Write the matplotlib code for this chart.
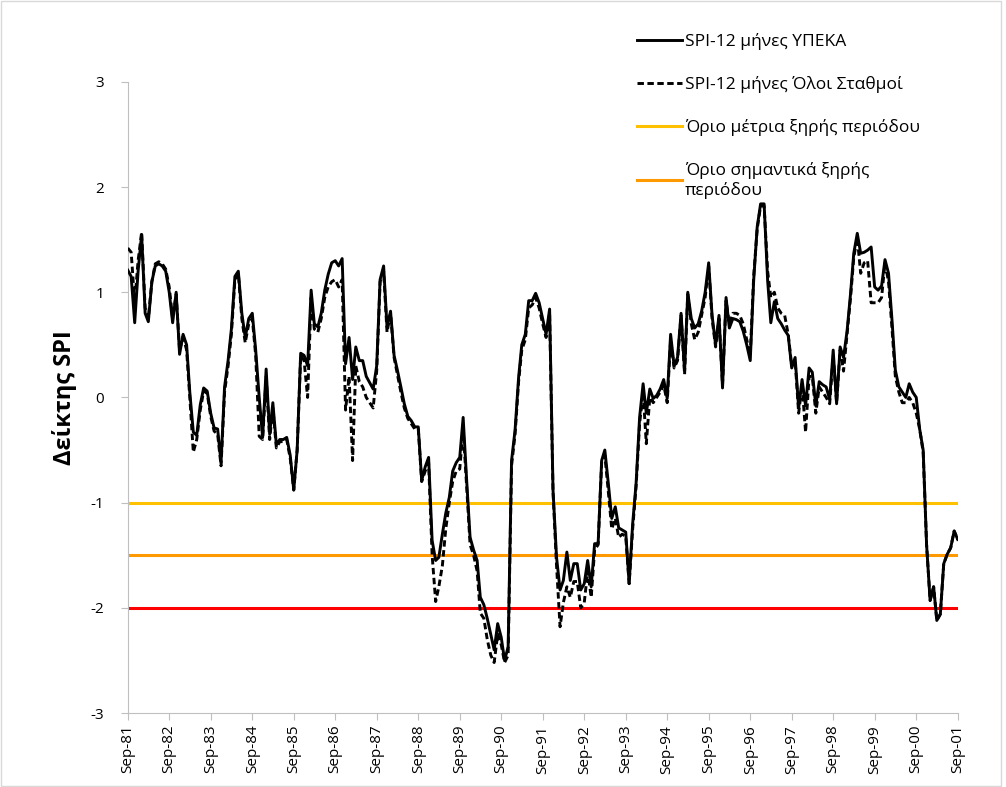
import numpy as np
import pandas as pd
import matplotlib
matplotlib.use("Agg")
import matplotlib.pyplot as plt
import matplotlib.dates as mdates
from matplotlib.patches import Rectangle

plt.rcParams['font.family'] = ['Open Sans', 'DejaVu Sans']
plt.rcParams['axes.unicode_minus'] = False

# monthly SPI-12 values, Sep-81 .. Sep-01 (one row per hydrological year)
spi_ypeka = [
    1.21, 1.15, 0.71, 1.20, 1.55, 0.80, 0.72, 1.10, 1.25, 1.27, 1.25, 1.20,
    1.00, 0.71, 1.00, 0.41, 0.60, 0.50, 0.05, -0.33, -0.36, -0.07, 0.09, 0.06,
    -0.15, -0.29, -0.30, -0.62, 0.10, 0.35, 0.65, 1.15, 1.20, 0.80, 0.57, 0.75,
    0.80, 0.45, 0.00, -0.38, 0.27, -0.35, -0.05, -0.45, -0.40, -0.40, -0.38, -0.55,
    -0.88, -0.50, 0.42, 0.40, 0.30, 1.02, 0.70, 0.67, 0.80, 1.02, 1.17, 1.28,
    1.30, 1.25, 1.32, 0.32, 0.57, 0.17, 0.48, 0.35, 0.35, 0.20, 0.14, 0.08,
    0.30, 1.12, 1.25, 0.67, 0.82, 0.40, 0.26, 0.10, -0.06, -0.18, -0.22, -0.28,
    -0.28, -0.79, -0.66, -0.57, -1.36, -1.55, -1.52, -1.30, -1.10, -0.95, -0.70, -0.62,
    -0.57, -0.19, -0.79, -1.33, -1.45, -1.55, -1.90, -1.97, -2.10, -2.25, -2.40, -2.15,
    -2.28, -2.50, -2.37, -0.60, -0.31, 0.19, 0.50, 0.60, 0.92, 0.92, 0.99, 0.90,
    0.75, 0.60, 0.84, -0.88, -1.52, -1.83, -1.74, -1.47, -1.74, -1.58, -1.58, -1.83,
    -1.77, -1.55, -1.80, -1.39, -1.39, -0.60, -0.50, -0.82, -1.15, -1.04, -1.24, -1.26,
    -1.28, -1.77, -1.20, -0.82, -0.19, 0.13, -0.15, 0.08, -0.01, 0.02, 0.08, 0.17,
    -0.01, 0.60, 0.30, 0.38, 0.80, 0.25, 1.00, 0.75, 0.66, 0.70, 0.82, 1.00,
    1.28, 0.78, 0.50, 0.78, 0.09, 0.95, 0.66, 0.75, 0.74, 0.72, 0.63, 0.50,
    0.35, 1.11, 1.62, 1.84, 1.84, 1.11, 0.71, 0.91, 0.75, 0.70, 0.64, 0.59,
    0.28, 0.38, -0.10, 0.17, -0.08, 0.28, 0.24, -0.08, 0.15, 0.12, 0.10, -0.02,
    0.45, -0.06, 0.48, 0.38, 0.63, 0.99, 1.37, 1.56, 1.37, 1.38, 1.40, 1.43,
    1.05, 1.02, 1.06, 1.31, 1.18, 0.73, 0.26, 0.10, 0.05, 0.00, 0.13, 0.05,
    0.00, -0.30, -0.50, -1.40, -1.93, -1.80, -2.12, -2.06, -1.58, -1.49, -1.43, -1.27,
    -1.35,
]

spi_all_stations = [
    1.42, 1.38, 0.90, 1.30, 1.57, 0.85, 0.75, 1.10, 1.27, 1.29, 1.27, 1.22,
    1.05, 0.75, 0.98, 0.45, 0.58, 0.45, 0.00, -0.52, -0.40, -0.12, 0.06, 0.04,
    -0.18, -0.32, -0.35, -0.65, 0.05, 0.30, 0.60, 1.12, 1.18, 0.75, 0.52, 0.70,
    0.75, 0.40, -0.37, -0.40, 0.20, -0.40, -0.10, -0.48, -0.42, -0.42, -0.40, -0.58,
    -0.88, -0.50, 0.40, 0.35, 0.00, 0.95, 0.65, 0.62, 0.75, 0.95, 1.05, 1.10,
    1.12, 1.05, 1.12, -0.12, 0.20, -0.60, 0.30, 0.15, 0.10, 0.00, -0.05, -0.10,
    0.25, 1.10, 1.20, 0.62, 0.80, 0.38, 0.22, 0.05, -0.10, -0.20, -0.25, -0.30,
    -0.30, -0.80, -0.70, -0.62, -1.50, -1.94, -1.80, -1.60, -1.25, -1.00, -0.80, -0.70,
    -0.68, -0.30, -0.85, -1.40, -1.50, -1.65, -2.05, -2.10, -2.30, -2.45, -2.52, -2.25,
    -2.35, -2.52, -2.45, -0.65, -0.35, 0.15, 0.45, 0.55, 0.85, 0.88, 0.95, 0.85,
    0.70, 0.57, 0.80, -0.90, -1.60, -2.18, -1.95, -1.80, -1.90, -1.75, -1.75, -2.00,
    -1.95, -1.65, -1.90, -1.45, -1.40, -0.62, -0.55, -0.90, -1.25, -1.15, -1.33, -1.30,
    -1.32, -1.77, -1.25, -0.85, -0.25, 0.05, -0.44, 0.00, -0.05, 0.00, 0.05, 0.12,
    -0.05, 0.55, 0.28, 0.35, 0.78, 0.22, 0.98, 0.70, 0.55, 0.62, 0.78, 0.95,
    1.25, 0.75, 0.48, 0.75, 0.12, 0.92, 0.70, 0.80, 0.80, 0.78, 0.70, 0.55,
    0.40, 1.15, 1.60, 1.82, 1.82, 1.20, 0.95, 1.00, 0.85, 0.80, 0.78, 0.60,
    0.30, 0.35, -0.15, 0.12, -0.33, 0.20, 0.20, -0.15, 0.10, 0.05, 0.00, -0.06,
    0.40, -0.05, 0.45, 0.25, 0.60, 0.95, 1.33, 1.52, 1.18, 1.28, 1.30, 0.90,
    0.90, 0.90, 0.95, 1.28, 1.10, 0.65, 0.20, 0.05, -0.05, -0.05, 0.00, -0.05,
    -0.15, -0.30, -0.52, -1.40, -1.93, -1.80, -2.12, -2.06, -1.58, -1.49, -1.43, -1.27,
    -1.35,
]

thresholds = [-1.0, -1.5, -2.0]
threshold_labels = ["Όριο μέτρια ξηρής περιόδου",
                    "Όριο σημαντικά ξηρής\nπεριόδου",
                    "_nolegend_"]
threshold_colors = ["#FFC000", "#FF9900", "#FF0000"]

dates = pd.date_range("1981-09-01", periods=len(spi_ypeka), freq="MS")

fig = plt.figure(figsize=(10.06, 7.87), dpi=100)
ax = fig.add_axes([0.127, 0.094, 0.825, 0.802])

ax.plot(dates, spi_ypeka, color="black", lw=2.1,
        label="SPI-12 μήνες ΥΠΕΚΑ", zorder=4)
ax.plot(dates, spi_all_stations, color="black", lw=2.1, ls=(0, (2.2, 1.2)),
        label="SPI-12 μήνες Όλοι Σταθμοί", zorder=3)
for val, lab, col in zip(thresholds, threshold_labels, threshold_colors):
    ax.plot([dates[0], dates[-1]], [val, val], color=col, lw=2.2, label=lab, zorder=2)

ax.set_xlim(dates[0], dates[-1])
ax.set_ylim(-3, 3)
ax.set_yticks(range(-3, 4))
ax.xaxis.set_major_locator(mdates.MonthLocator(bymonth=9))
ax.xaxis.set_major_formatter(mdates.DateFormatter("%b-%y"))
ax.tick_params(axis="x", rotation=90, labelsize=11, length=5, color="#bfbfbf")
ax.tick_params(axis="y", labelsize=11, length=5, pad=12, color="#bfbfbf")

for side in ["top", "right"]:
    ax.spines[side].set_visible(False)
for side in ["left", "bottom"]:
    ax.spines[side].set_color("#bfbfbf")

ax.set_ylabel("Δείκτης SPI", fontsize=17, fontweight="bold", labelpad=10)

handles, labels = ax.get_legend_handles_labels()
fig.legend(handles[:4], labels[:4], loc="upper left",
           bbox_to_anchor=(0.618, 0.978), frameon=False, fontsize=12.5,
           handlelength=2.6, handletextpad=0.15, labelspacing=1.5)

fig.patches.append(Rectangle((0.001, 0.001), 0.994, 0.998, transform=fig.transFigure,
                             fill=False, edgecolor="#d9d9d9", lw=1))

fig.savefig("out.png", dpi=100)
